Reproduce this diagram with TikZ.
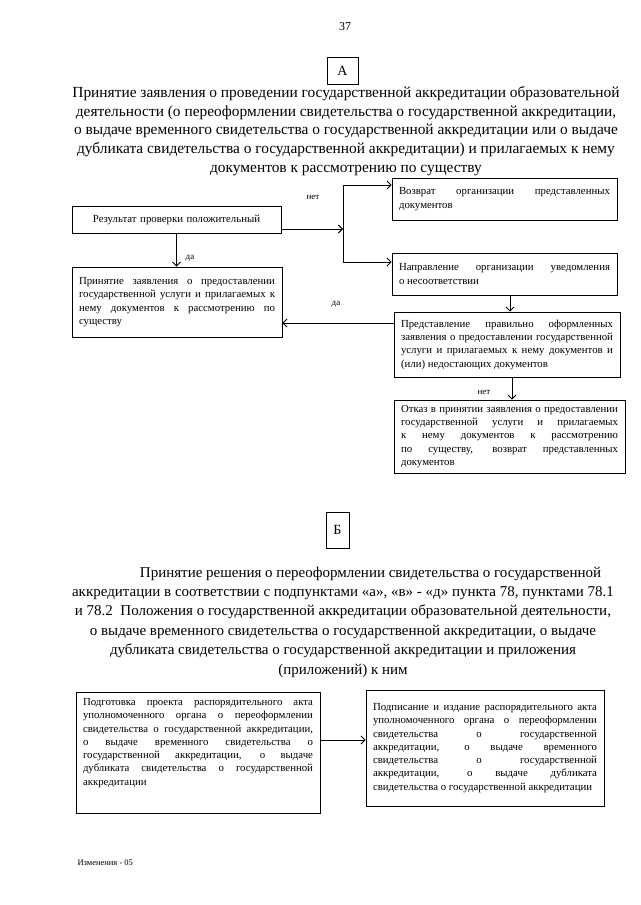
\documentclass[tikz,border=0pt]{standalone}
\usepackage{fontspec}
\setmainfont{Liberation Serif}
\usetikzlibrary{positioning, arrows.meta, calc}
\hyphenpenalty=10000
\exhyphenpenalty=10000
\tolerance=9999
\tikzset{
  stepbox/.style={draw, line width=0.9pt, inner xsep=7pt, inner ysep=3pt,
    font=\fontsize{10.8}{13.3}\selectfont, align=justify},
  letterbox/.style={draw, line width=0.9pt, inner sep=0pt,
    font=\fontsize{14}{16}\selectfont},
  headline/.style={align=center, font=\fontsize{15.4}{18.8}\selectfont},
  tag/.style={font=\fontsize{9}{10}\selectfont},
  flow/.style={line width=0.9pt, -{Straight Barb[length=4pt,width=8pt]}}
}
\begin{document}
\begin{tikzpicture}[x=1pt, y=-1pt]
    \useasboundingbox[fill=white] (0,0) rectangle (640,905);
    \node (page) at (345,27) {\fontsize{12}{14}\selectfont 37};
    % ---- section A ----
    \node[letterbox, minimum width=31pt, minimum height=27pt] (markA) at (342.5,70.5) {А};
    \node[headline] (titleA) at (346,131)
      {Принятие заявления о проведении государственной аккредитации образовательной\\
       деятельности (о переоформлении свидетельства о государственной аккредитации,\\
       о выдаче временного свидетельства о государственной аккредитации или о выдаче\\
       дубликата свидетельства о государственной аккредитации) и прилагаемых к нему\\
       документов к рассмотрению по существу};
    \node[stepbox, align=center, text width=195pt, minimum height=27pt] (res) at (176.5,219.5)
      {Результат проверки положительный};
    \node[stepbox, text width=196pt, minimum height=70pt] (accept) at (177,302)
      {Принятие заявления о предоставлении\linebreak
       государственной услуги и прилагаемых к\linebreak
       нему документов к рассмотрению по\linebreak
       существу};
    \node[stepbox, text width=211pt, minimum height=42pt] (ret) at (504.5,199)
      {Возврат организации представленных\linebreak
       документов};
    \node[stepbox, text width=211pt, minimum height=42pt] (notice) at (504.5,274)
      {Направление организации уведомления\linebreak
       о несоответствии};
    \node[stepbox, text width=212pt, minimum height=65pt] (present) at (507,344.5)
      {Представление правильно оформленных\linebreak
       заявления о предоставлении государственной\linebreak
       услуги и прилагаемых к нему документов и\linebreak
       (или) недостающих документов};
    \node[stepbox, text width=217pt, minimum height=73pt] (refuse) at (509.5,436.5)
      {Отказ в принятии заявления о предоставлении\linebreak
       государственной услуги и прилагаемых\linebreak
       к нему документов к рассмотрению\linebreak
       по существу, возврат представленных\linebreak
       документов};
    % branching after the check
    \coordinate (fork) at (343,229);
    \coordinate (forkup) at (343,185);
    \coordinate (forkdown) at (343,262);
    \coordinate (back) at (390,323);
    \draw[flow] (res.east |- fork) -- (fork);
    \draw[flow] (fork) -- (forkup) -- (ret.west |- forkup);
    \draw[flow] (fork) -- (forkdown) -- (notice.west |- forkdown);
    \draw[flow] (res.south) -- (res.south |- accept.north);
    \draw[flow] ([xshift=5.5pt]notice.south) -- ([xshift=5.5pt]notice.south |- present.north);
    \draw[flow] (present.west |- back) -- (accept.east |- back);
    \draw[flow] ([xshift=5pt]present.south) -- ([xshift=5pt]present.south |- refuse.north);
    \node[tag] (no1) at (313,197) {нет};
    \node[tag] (yes1) at (190,258) {да};
    \node[tag] (yes2) at (336,304) {да};
    \node[tag] (no2) at (484,392) {нет};
    % ---- section B ----
    \node[letterbox, minimum width=23pt, minimum height=36pt] (markB) at (337.5,530) {Б};
    \node[headline, font=\fontsize{15}{19.4}\selectfont] (titleB) at (343,622)
      {\hspace*{55pt}Принятие решения о переоформлении свидетельства о государственной\\
       аккредитации в соответствии с подпунктами «а», «в» - «д» пункта 78, пунктами 78.1\\
       и 78.2 \ Положения о государственной аккредитации образовательной деятельности,\\
       о выдаче временного свидетельства о государственной аккредитации, о выдаче\\
       дубликата свидетельства о государственной аккредитации и приложения\\
       (приложений) к ним};
    \node[stepbox, text width=230pt, minimum height=121pt] (prep) at (198,752.5)
      {Подготовка проекта распорядительного акта\linebreak
       уполномоченного органа о переоформлении\linebreak
       свидетельства о государственной аккредитации,\linebreak
       о выдаче временного свидетельства о\linebreak
       государственной аккредитации, о выдаче\linebreak
       дубликата свидетельства о государственной\linebreak
       аккредитации\\[8pt]\mbox{}};
    \node[stepbox, text width=224pt, minimum height=116pt] (sign) at (485,748)
      {Подписание и издание распорядительного акта\linebreak
       уполномоченного органа о переоформлении\linebreak
       свидетельства о государственной\linebreak
       аккредитации, о выдаче временного\linebreak
       свидетельства о государственной\linebreak
       аккредитации, о выдаче дубликата\linebreak
       свидетельства о государственной аккредитации};
    \coordinate (link) at (340,740);
    \draw[flow] (prep.east |- link) -- (sign.west |- link);
    \node[anchor=west, font=\fontsize{8.5}{10}\selectfont] (footer) at (74,863) {Изменения - 05};
\end{tikzpicture}
\end{document}
